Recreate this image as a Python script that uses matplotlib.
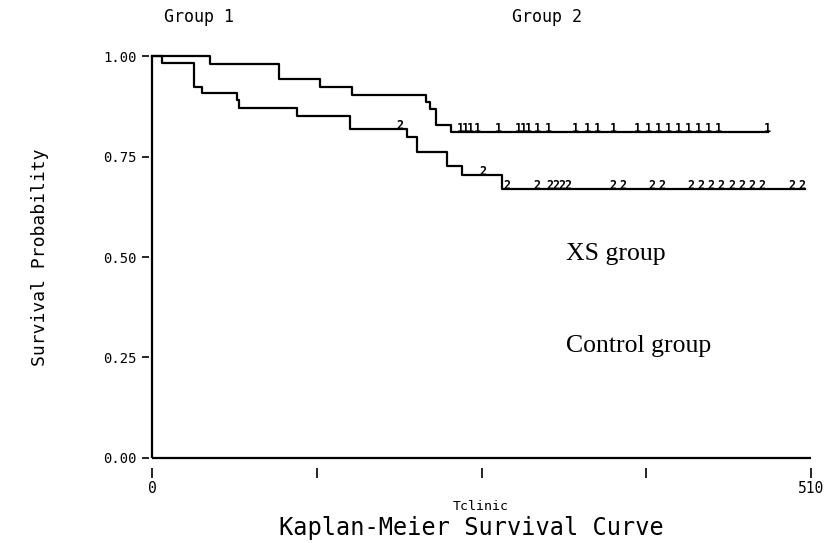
import matplotlib
matplotlib.use("Agg")
import matplotlib.pyplot as plt

# ---- data ----
g1_times = [0, 45, 98, 130, 155, 212, 215, 220, 231]
g1_surv = [1.0, 0.979, 0.942, 0.923, 0.904, 0.886, 0.868, 0.828, 0.811]
g1_end = 477
g1_censor = [238.4, 242.3, 246.1, 251.5, 267.8, 283.3, 287.2, 291.0, 298.0,
             306.5, 327.4, 336.7, 344.4, 356.8, 375.4, 383.9, 391.6, 399.4,
             407.1, 414.9, 422.6, 430.3, 438.1, 476.0]

g2_times = [0, 7.5, 32.7, 38.5, 65.6, 67.5, 112, 153, 197, 205, 228, 240, 271]
g2_surv = [1.0, 0.982, 0.923, 0.907, 0.890, 0.870, 0.851, 0.818, 0.799,
           0.761, 0.726, 0.705, 0.668]
g2_end = 505
g2_censor = [192, 256, 274.8, 298.0, 308.0, 312.7, 317.3, 321.9, 356.8, 364.6,
             387.0, 394.7, 417.2, 424.9, 432.7, 440.4, 448.9, 456.7, 464.4,
             472.1, 495.3, 503.1]

yticks = [0.0, 0.25, 0.5, 0.75, 1.0]
ytick_labels = ["0.00", "0.25", "0.50", "0.75", "1.00"]
xticks = [0, 127.5, 255, 382.5, 510]
xtick_labels = ["0", "", "", "", "510"]

mono = "DejaVu Sans Mono"
serif = "Liberation Serif"


def surv_at(times, surv, t):
    s = surv[0]
    for ti, si in zip(times, surv):
        if ti <= t:
            s = si
    return s


fig = plt.figure(figsize=(8.24, 5.43), dpi=100)
ax = fig.add_axes([0.1806, 0.1381, 0.8036, 0.7587])
ax.set_xlim(-2.5, 510)
ax.set_ylim(-0.025, 1.0)
for sp in ax.spines.values():
    sp.set_visible(False)

# axis frame lines
ax.vlines(0, 0, 1.0, color="black", lw=1.6, clip_on=False)
ax.hlines(0, 0, 510, color="black", lw=1.6, clip_on=False)

# step curves
for times, surv, end in [(g1_times, g1_surv, g1_end), (g2_times, g2_surv, g2_end)]:
    ax.step(list(times) + [end], list(surv) + [surv[-1]], where="post",
            color="black", lw=1.6, clip_on=False)

# censor marks
for lab, times, surv, cens in [("1", g1_times, g1_surv, g1_censor),
                               ("2", g2_times, g2_surv, g2_censor)]:
    for c in cens:
        ax.text(c, surv_at(times, surv, c), lab, family=mono, fontsize=8.5,
                fontweight="bold", ha="center", va="baseline")

ax.set_yticks(yticks)
ax.set_yticklabels(ytick_labels, family=mono, fontsize=10)
ax.set_xticks(xticks)
ax.set_xticklabels(xtick_labels, family=mono, fontsize=10.5)
ax.tick_params(axis="y", length=5, width=1.2, pad=4)
ax.tick_params(axis="x", length=7, width=1.2, pad=2)

fig.text(0.2415, 0.9687, "Group 1", family=mono, fontsize=12, ha="center", va="center")
fig.text(0.664, 0.9687, "Group 2", family=mono, fontsize=12, ha="center", va="center")
fig.text(0.0485, 0.5267, "Survival Probability", family=mono, fontsize=13,
         rotation=90, ha="center", va="center")
fig.text(0.5837, 0.068, "Tclinic", family=mono, fontsize=9.5, ha="center", va="center")
fig.text(0.5716, 0.0276, "Kaplan-Meier Survival Curve", family=mono, fontsize=17,
         ha="center", va="center")

fig.text(566 / 824, 1 - 260 / 543, "XS group", family=serif, fontsize=18.5,
         ha="left", va="baseline")
fig.text(566 / 824, 1 - 352 / 543, "Control group", family=serif, fontsize=18.5,
         ha="left", va="baseline")

fig.savefig("out.png", dpi=100)
